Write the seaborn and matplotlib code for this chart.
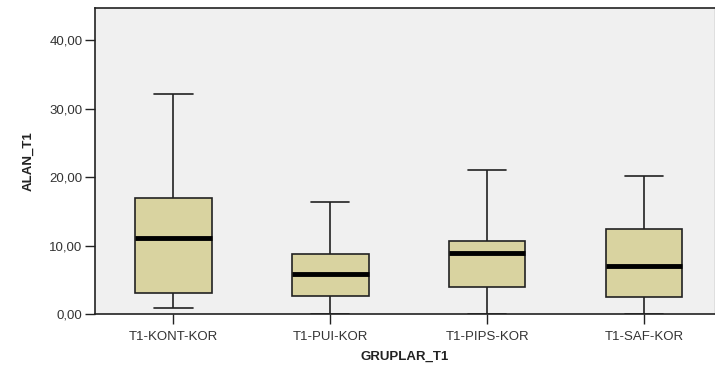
import matplotlib
matplotlib.use("Agg")
import matplotlib.pyplot as plt
import seaborn as sns
import pandas as pd
from matplotlib.ticker import FuncFormatter

# Five-number summaries per group: min, Q1, median, Q3, max
groups = ["T1-KONT-KOR", "T1-PUI-KOR", "T1-PIPS-KOR", "T1-SAF-KOR"]
kont = [0.9, 3.0, 11.1, 17.0, 32.2]
pui = [0.0, 2.7, 5.9, 8.7, 16.4]
pips = [0.0, 3.9, 8.9, 10.7, 21.1]
saf = [0.0, 2.5, 7.0, 12.4, 20.1]
yticks = [0, 10, 20, 30, 40]

df = pd.DataFrame({
    "GRUPLAR_T1": sum([[g] * 5 for g in groups], []),
    "ALAN_T1": kont + pui + pips + saf,
})

sns.set_theme(style="white")
plt.rcParams["font.family"] = ["Liberation Sans", "DejaVu Sans"]

fig = plt.figure(figsize=(7.15, 3.72), dpi=100)
ax = fig.add_axes([95 / 715, 1 - 314 / 372, 620 / 715, 306 / 372])
ax.set_facecolor("#f0f0f0")

sns.boxplot(data=df, x="GRUPLAR_T1", y="ALAN_T1", order=groups, whis=(0, 100),
            width=0.485, color="#d9d3a0", saturation=1, linewidth=1.2,
            linecolor="#222222", showfliers=False,
            medianprops=dict(color="black", linewidth=3.5), ax=ax)

ax.set_xlim(-0.5, 3.45)
ax.set_ylim(0, 44.7)
ax.set_yticks(yticks)
ax.yaxis.set_major_formatter(FuncFormatter(lambda v, p: f"{v:.2f}".replace(".", ",")))

for side in ["left", "bottom", "top"]:
    ax.spines[side].set_visible(True)
    ax.spines[side].set_color("#222222")
    ax.spines[side].set_linewidth(1.2)
ax.spines["right"].set_visible(True)
ax.spines["right"].set_color("#dddddd")

ax.tick_params(axis="both", which="major", direction="out", length=7, width=1,
               color="#222222", labelsize=9.5, labelcolor="#333333", pad=2,
               left=True, bottom=True)
ax.tick_params(axis="x", pad=5)
ax.set_xlabel("GRUPLAR_T1", fontsize=9.5, fontweight="bold", color="#222222", labelpad=6)
ax.set_ylabel("ALAN_T1", fontsize=9.5, fontweight="bold", color="#222222", labelpad=11)

fig.savefig("out.png", dpi=100, facecolor="white")
